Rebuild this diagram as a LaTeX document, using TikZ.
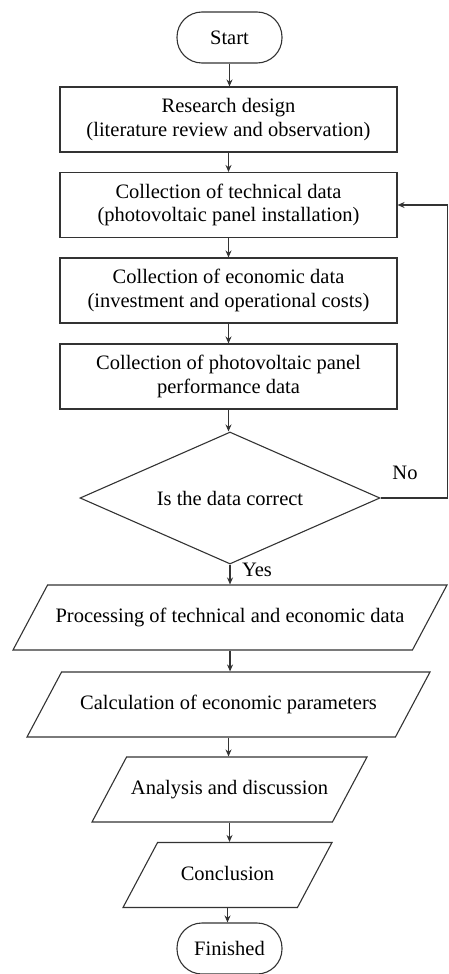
\documentclass[tikz,border=0pt]{standalone}
\usepackage{fontspec}
\setmainfont{Liberation Serif}
\usetikzlibrary{shapes.geometric,arrows.meta}

\begin{document}
\begin{tikzpicture}[x=1pt,y=-1pt,
    every node/.style={font=\fontsize{20.5}{23.5}\selectfont},
    line/.style={draw=black!80,line width=1.1pt},
    flow/.style={line,-{Stealth[length=7pt,width=6pt]}},
    terminal/.style={line,rounded corners=25pt,minimum width=105pt,minimum height=51pt,inner sep=0pt},
    process/.style={line,rectangle,minimum width=337pt,minimum height=65pt,align=center,inner sep=0pt},
    decision/.style={line,diamond,aspect=2.27,minimum width=300pt,minimum height=132pt,inner sep=0pt},
    io/.style={line,trapezium,trapezium left angle=62,trapezium right angle=118,
      trapezium stretches body,text height=14pt,text depth=4pt,inner ysep=23.5pt,inner xsep=0pt}]
  \useasboundingbox (0,0) rectangle (448,974);

  \node[terminal] (start) at (229.5,37.5) {Start};
  \node[process] (box1) at (228.5,119.5) {Research design\\(literature review and observation)};
  \node[process] (box2) at (228.5,205) {Collection of technical data\\(photovoltaic panel installation)};
  \node[process] (box3) at (228.5,290.5) {Collection of economic data\\(investment and operational costs)};
  \node[process] (box4) at (228.5,376.5) {Collection of photovoltaic panel\\performance data};
  \node[decision] (check) at (230,498) {Is the data correct};
  \node[io,minimum width=434pt] (proc) at (230,617.5) {Processing of technical and economic data};
  \node[io,minimum width=403pt] (calc) at (228.5,704.5) {Calculation of economic parameters};
  \node[io,minimum width=275pt] (anal) at (229.5,789.5) {Analysis and discussion};
  \node[io,minimum width=209pt] (concl) at (227.5,875) {Conclusion};
  \node[terminal] (finish) at (229.5,948.5) {Finished};

  % main flow
  \foreach \a/\b in {start/box1,box1/box2,box2/box3,box3/box4,box4/check,
                     check/proc,proc/calc,calc/anal,anal/concl,concl/finish}
    \draw[flow] (\a.south) -- (\a.south |- \b.north);

  % back to the technical data
  \coordinate (back) at (447.8,498);
  \draw[flow] (check.east) -- (back) |- (box2.east);
  \node (no) at (405,473) {No};
  \node (yes) at (257,570) {Yes};
\end{tikzpicture}
\end{document}
